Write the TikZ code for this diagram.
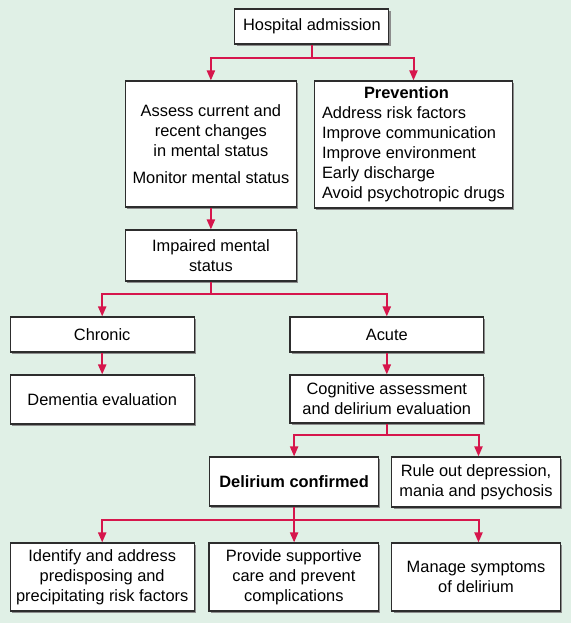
\documentclass[tikz,border=0pt]{standalone}
\usepackage{fontspec}
\setmainfont{Liberation Sans}
\usepackage{tikz}
\usetikzlibrary{arrows.meta, shadows}
\definecolor{pagegreen}{RGB}{224, 240, 230}
\definecolor{flowred}{RGB}{214, 22, 76}
\definecolor{edgegray}{RGB}{45, 45, 45}

\begin{document}
\begin{tikzpicture}[x=1pt, y=-1pt,
    box/.style={draw=edgegray, line width=1.1pt, fill=white, align=center, inner sep=2pt,
        font=\fontsize{16.4}{20}\selectfont,
        drop shadow={shadow xshift=1.6pt, shadow yshift=-1.6pt, fill=black!45, opacity=1}},
    link/.style={flowred, line width=2pt},
    arr/.style={link, -{Triangle[length=10pt, width=8pt]}}]
    % Background
    \fill[pagegreen] (0,0) rectangle (571,623);
    \useasboundingbox (0,0) rectangle (571,623);

    % Boxes
    \node[box, minimum width=154pt, minimum height=35pt] (hosp) at (311.9,26.5) {Hospital admission};
    \node[box, minimum width=170.5pt, minimum height=126pt] (assess) at (210.9,144)
        {Assess current and\\recent changes\\in mental status\\[7pt]Monitor mental status};
    \node[box, minimum width=198.5pt, minimum height=127pt, align=left] (prev) at (413.5,144.5)
        {\hspace*{42pt}\textbf{Prevention}\\Address risk factors\\Improve communication\\Improve environment\\Early discharge\\Avoid psychotropic drugs};
    \node[box, minimum width=170.5pt, minimum height=51pt] (impaired) at (210.9,255.5) {Impaired mental\\status};
    \node[box, minimum width=184pt, minimum height=35pt] (chronic) at (102.2,334.5) {Chronic};
    \node[box, minimum width=193.7pt, minimum height=35pt] (acute) at (386.8,334.5) {Acute};
    \node[box, minimum width=184pt, minimum height=49pt] (dementia) at (102.2,399.5) {Dementia evaluation};
    \node[box, minimum width=193.7pt, minimum height=48pt] (cognitive) at (386.8,399) {Cognitive assessment\\and delirium evaluation};
    \node[box, minimum width=169.4pt, minimum height=49pt] (confirmed) at (294.1,481.5) {\textbf{Delirium confirmed}};
    \node[box, minimum width=168.2pt, minimum height=50pt] (ruleout) at (476,482) {Rule out depression,\\mania and psychosis};
    \node[box, minimum width=184pt, minimum height=68pt] (identify) at (102.2,577) {Identify and address\\predisposing and\\precipitating risk factors};
    \node[box, minimum width=169.8pt, minimum height=68pt] (supportive) at (293.9,577) {Provide supportive\\care and prevent\\complications};
    \node[box, minimum width=168.2pt, minimum height=68pt] (symptoms) at (476,577) {Manage symptoms\\of delirium};

    % Connectors
    \draw[link] (hosp.south) -- ++(0,13) coordinate (split1);
    \draw[arr] (split1) -| (assess.north);
    \draw[arr] (split1) -| (prev.north);
    \draw[arr] (assess.south) -- (impaired.north);
    \draw[link] (impaired.south) -- ++(0,12) coordinate (split2);
    \draw[arr] (split2) -| (chronic.north);
    \draw[arr] (split2) -| (acute.north);
    \draw[arr] (chronic.south) -- (dementia.north);
    \draw[arr] (acute.south) -- (cognitive.north);
    \draw[link] (cognitive.south) -- ++(0,11) coordinate (split3);
    \draw[arr] (split3) -| (confirmed.north);
    \draw[arr] (split3) -| ([xshift=2.5pt]ruleout.north);
    \draw[link] (confirmed.south) -- ++(0,13) coordinate (split4);
    \draw[arr] (split4) -| (identify.north);
    \draw[arr] (split4) -- (supportive.north -| split4);
    \draw[arr] (split4) -| ([xshift=2.5pt]symptoms.north);
\end{tikzpicture}
\end{document}
